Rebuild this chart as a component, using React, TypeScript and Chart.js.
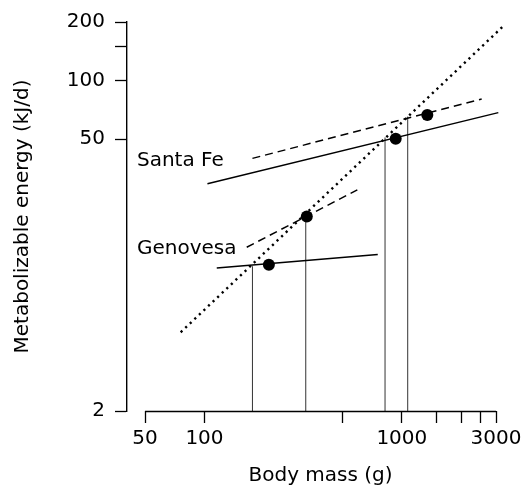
import React, { useEffect, useRef } from 'react';
import { Chart, registerables } from 'chart.js';

Chart.register(...registerables);

const xTickValues = [50, 100, 500, 1000, 1500, 2000, 2500, 3000];
const xTickLabels = ['50', '100', '', '1000', '', '', '', '3000'];
const yTickValues = [2, 50, 100, 150, 200];
const yTickLabels = ['2', '50', '100', '', '200'];

const xTitle = 'Body mass (g)';
const yTitle = 'Metabolizable energy (kJ/d)';

const pointMass = [212, 330, 931, 1346];
const pointEnergy = [11.3, 20.0, 50.2, 66.5];

const dottedMass = [75.8, 3293];
const dottedEnergy = [5.08, 192];

const santaFeSolidMass = [103.5, 3082];
const santaFeSolidEnergy = [29.5, 68.4];
const santaFeDashedMass = [175, 2538];
const santaFeDashedEnergy = [39.8, 80.3];

const genovesaSolidMass = [115.4, 755];
const genovesaSolidEnergy = [10.86, 12.76];
const genovesaDashedMass = [163.7, 595];
const genovesaDashedEnergy = [13.9, 27.4];

const dropMass = [175, 326, 822, 1071];
const dropTop = [11.1, 20.0, 51.0, 65.3];
const dropBottom = 2;

const labelNames = ['Santa Fe', 'Genovesa'];
const labelMass = [45.5, 45.5];
const labelEnergy = [38.6, 13.6];

const FONT = 'DejaVu Sans';

const zip = (xs: number[], ys: number[]) => xs.map((x, i) => ({ x, y: ys[i] }));

const lineDs = (data: { x: number; y: number }[], extra: any = {}) => ({
  type: 'scatter' as const,
  data,
  showLine: true,
  pointRadius: 0,
  borderColor: '#000',
  borderWidth: 1.5,
  fill: false,
  clip: false,
  ...extra,
});

const overlayPlugin = {
  id: 'overlay',
  afterDraw(chart: any) {
    const { ctx, scales } = chart;
    const xs = scales.x;
    const ys = scales.y;
    ctx.save();
    // x axis line from first to last tick
    const axisY = Math.round(chart.chartArea.bottom) + 0.5;
    ctx.strokeStyle = '#000';
    ctx.lineWidth = 1.4;
    ctx.beginPath();
    ctx.moveTo(xs.getPixelForValue(xTickValues[0]), axisY);
    ctx.lineTo(xs.getPixelForValue(xTickValues[xTickValues.length - 1]), axisY);
    ctx.stroke();
    // annotations
    ctx.fillStyle = '#000';
    ctx.font = `20px "${FONT}"`;
    ctx.textAlign = 'left';
    ctx.textBaseline = 'middle';
    labelNames.forEach((t, i) => {
      ctx.fillText(t, xs.getPixelForValue(labelMass[i]), ys.getPixelForValue(labelEnergy[i]));
    });
    // x title centred on the drawn axis
    const cx =
      (xs.getPixelForValue(xTickValues[0]) +
        xs.getPixelForValue(xTickValues[xTickValues.length - 1])) /
      2;
    ctx.textAlign = 'center';
    ctx.fillText(xTitle, cx, xs.bottom - 13.5);
    ctx.restore();
  },
};

export default function App() {
  const ref = useRef<HTMLCanvasElement | null>(null);

  useEffect(() => {
    if (!ref.current) return;
    const datasets: any[] = [
      {
        type: 'scatter',
        data: zip(pointMass, pointEnergy),
        pointRadius: 6,
        pointBackgroundColor: '#000',
        pointBorderColor: '#000',
        pointBorderWidth: 0,
        showLine: false,
      },
      lineDs(zip(dottedMass, dottedEnergy), { borderWidth: 2.4, borderDash: [2.2, 4.1] }),
      lineDs(zip(santaFeSolidMass, santaFeSolidEnergy)),
      lineDs(zip(santaFeDashedMass, santaFeDashedEnergy), { borderDash: [8, 5] }),
      lineDs(zip(genovesaSolidMass, genovesaSolidEnergy)),
      lineDs(zip(genovesaDashedMass, genovesaDashedEnergy), { borderDash: [8, 5] }),
      ...dropMass.map((m, i) =>
        lineDs(
          [
            { x: m, y: dropBottom },
            { x: m, y: dropTop[i] },
          ],
          { borderWidth: 1, borderColor: '#333' }
        )
      ),
    ];

    const chart = new Chart(ref.current, {
      type: 'scatter',
      data: { datasets },
      options: {
        animation: false,
        responsive: false,
        devicePixelRatio: 1,
        events: [],
        layout: { padding: { top: 18, right: 32, left: 0, bottom: 0 } },
        plugins: { legend: { display: false }, tooltip: { enabled: false } },
        scales: {
          x: {
            type: 'logarithmic',
            min: 40.5,
            max: 3000,
            bounds: 'data',
            afterBuildTicks: (s: any) => {
              s.ticks = xTickValues.map((v) => ({ value: v }));
            },
            afterFit: (s: any) => {
              s.height = 78;
            },
            ticks: {
              callback: (_v: any, i: number) => xTickLabels[i] ?? '',
              autoSkip: false,
              maxRotation: 0,
              minRotation: 0,
              padding: 4,
              color: '#000',
              font: { family: FONT, size: 20 },
            },
            grid: {
              display: true,
              drawOnChartArea: false,
              drawTicks: true,
              tickLength: 12,
              tickWidth: 1.3,
              tickColor: '#000',
            },
            border: { display: false },
            title: { display: false },
          },
          y: {
            type: 'logarithmic',
            min: 2,
            max: 200,
            bounds: 'data',
            afterBuildTicks: (s: any) => {
              s.ticks = yTickValues.map((v) => ({ value: v }));
            },
            afterFit: (s: any) => {
              s.width = 127;
            },
            ticks: {
              callback: (_v: any, i: number) => yTickLabels[i] ?? '',
              autoSkip: false,
              padding: 10,
              color: '#000',
              font: { family: FONT, size: 20 },
            },
            grid: {
              display: true,
              drawOnChartArea: false,
              drawTicks: true,
              tickLength: 12,
              tickWidth: 1.3,
              tickColor: '#000',
            },
            border: { display: true, color: '#000', width: 1.4 },
            title: {
              display: true,
              text: yTitle,
              color: '#000',
              font: { family: FONT, size: 20 },
              padding: { top: 11, bottom: 0 },
            },
          },
        },
      },
      plugins: [overlayPlugin],
    } as any);
    return () => chart.destroy();
  }, []);

  return (
    <div style={{ position: 'fixed', left: 0, top: 0, width: 528, height: 489, background: '#fff' }}>
      <canvas ref={ref} width={528} height={489} style={{ display: 'block' }} />
    </div>
  );
}
